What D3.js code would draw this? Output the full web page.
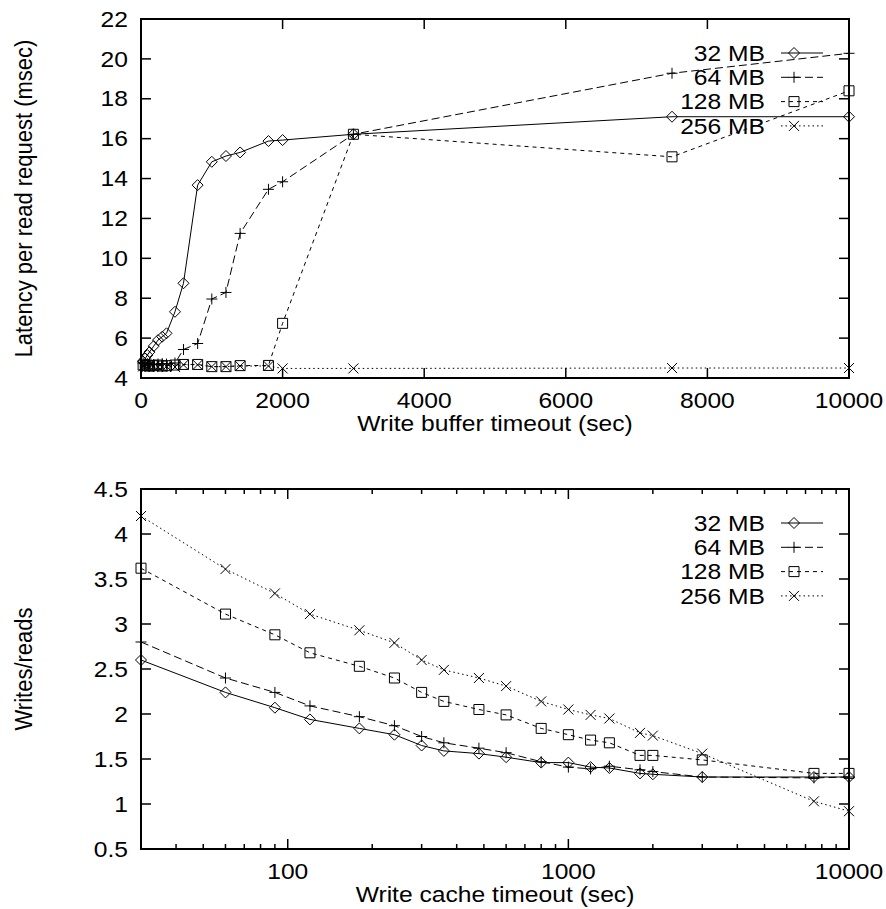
<!DOCTYPE html>
<html>
<head>
<meta charset="utf-8">
<title>Write buffer / write cache timeout</title>
<script src="https://d3js.org/d3.v7.min.js"></script>
<style>
  body { margin: 0; background: #fff; }
  svg text { font-family: "Liberation Sans", Arial, sans-serif; font-size: 22px; fill: #000; }
</style>
</head>
<body>
<div id="chart"></div>
<script>

// ---- data ----
var seriesNames = ["32 MB", "64 MB", "128 MB", "256 MB"];

// same timeouts (sec) for both panels
var timeouts = [30, 60, 90, 120, 180, 240, 300, 360, 480, 600, 800, 1000, 1200, 1400, 1800, 2000, 3000, 7500, 10000];

// top panel: latency per read request (msec)
var latency32  = [4.82, 4.98, 5.15, 5.3, 5.6, 5.9, 6.07, 6.24, 7.32, 8.75, 13.67, 14.84, 15.13, 15.31, 15.88, 15.93, 16.22, 17.1, 17.1];
var latency64  = [4.75, 4.7, 4.72, 4.7, 4.68, 4.7, 4.72, 4.7, 4.75, 5.43, 5.73, 7.96, 8.29, 11.25, 13.46, 13.84, 16.22, 19.28, 20.28];
var latency128 = [4.65, 4.62, 4.65, 4.6, 4.62, 4.65, 4.6, 4.62, 4.65, 4.68, 4.68, 4.57, 4.57, 4.62, 4.63, 6.74, 16.22, 15.09, 18.4];
var latency256 = [4.58, 4.55, 4.57, 4.55, 4.58, 4.55, 4.56, 4.58, 4.55, 4.66, 4.66, 4.57, 4.57, 4.6, 4.6, 4.48, 4.48, 4.5, 4.5];

// bottom panel: writes/reads
var ratio32  = [2.6, 2.24, 2.07, 1.94, 1.84, 1.77, 1.65, 1.59, 1.56, 1.52, 1.46, 1.46, 1.41, 1.40, 1.34, 1.33, 1.30, 1.30, 1.30];
var ratio64  = [2.80, 2.40, 2.24, 2.09, 1.97, 1.87, 1.75, 1.68, 1.62, 1.57, 1.47, 1.41, 1.39, 1.42, 1.38, 1.36, 1.30, 1.29, 1.30];
var ratio128 = [3.62, 3.11, 2.88, 2.68, 2.53, 2.40, 2.24, 2.14, 2.05, 1.99, 1.84, 1.77, 1.71, 1.68, 1.54, 1.54, 1.49, 1.34, 1.34];
var ratio256 = [4.2, 3.61, 3.34, 3.11, 2.93, 2.79, 2.6, 2.49, 2.40, 2.31, 2.14, 2.05, 1.99, 1.95, 1.79, 1.76, 1.56, 1.03, 0.92];

// tick values
var topXTicks = [0, 2000, 4000, 6000, 8000, 10000];
var topYTicks = [4, 6, 8, 10, 12, 14, 16, 18, 20, 22];
var botXTicks = [100, 1000, 10000];
var botXMinor = [40, 50, 60, 70, 80, 90, 200, 300, 400, 500, 600, 700, 800, 900, 2000, 3000, 4000, 5000, 6000, 7000, 8000, 9000];
var botYTicks = [0.5, 1, 1.5, 2, 2.5, 3, 3.5, 4, 4.5];


var width = 886, height = 909;
var svg = d3.select("#chart").append("svg")
	.attr("width", width)
	.attr("height", height);

// the original's lettering is a bit wider than Helvetica/Arial
var stretch = 1.12;

// gnuplot-like line styles: solid, long dash, short dash, dotted
var dashes = [null, "8,4", "4,4", "1.5,3"];
var markers = ["diamond", "plus", "square", "cross"];

function markerPath(type, x, y) {
	var r = 5.5;
	if (type == "diamond") return "M" + x + "," + (y - r) + "L" + (x + r) + "," + y + "L" + x + "," + (y + r) + "L" + (x - r) + "," + y + "Z";
	if (type == "plus") return "M" + (x - r) + "," + y + "H" + (x + r) + "M" + x + "," + (y - r) + "V" + (y + r);
	if (type == "square") { r = 5; return "M" + (x - r) + "," + (y - r) + "h" + (2 * r) + "v" + (2 * r) + "h" + (-2 * r) + "Z"; }
	r = 5; // cross
	return "M" + (x - r) + "," + (y - r) + "L" + (x + r) + "," + (y + r) + "M" + (x + r) + "," + (y - r) + "L" + (x - r) + "," + (y + r);
}

// text placed at (x,y), stretched horizontally
function label(g, x, y, anchor, str, rotate) {
	return g.append("text")
		.attr("transform", "translate(" + x + "," + y + ") scale(" + stretch + ",1)" + (rotate ? " rotate(-90)" : ""))
		.attr("dy", "0.35em")
		.attr("text-anchor", anchor)
		.text(str);
}

// Draws one panel (frame, mirrored ticks, labels, series, key)
function drawPanel(p) {
	var g = svg.append("g");
	var x = p.x, y = p.y;
	var L = p.left, R = p.right, T = p.top, B = p.bottom;

	// series lines + points
	p.series.forEach(function (vals, i) {
		var pts = timeouts.map((t, k) => [x(t), y(vals[k])]);
		g.append("path")
			.attr("d", d3.line()(pts))
			.attr("fill", "none")
			.attr("stroke", "#000")
			.attr("stroke-width", 1)
			.attr("stroke-dasharray", dashes[i]);
		g.selectAll(null)
			.data(pts)
			.join("path")
			.attr("d", d => markerPath(markers[i], d[0], d[1]))
			.attr("fill", "none")
			.attr("stroke", "#000")
			.attr("stroke-width", 1);
	});

	// major ticks (mirrored top/bottom and left/right)
	p.xTicks.forEach(function (t) {
		var xx = x(t);
		g.append("line").attr("x1", xx).attr("x2", xx).attr("y1", B).attr("y2", B - 10).attr("stroke", "#000").attr("stroke-width", 1.5);
		g.append("line").attr("x1", xx).attr("x2", xx).attr("y1", T).attr("y2", T + 10).attr("stroke", "#000").attr("stroke-width", 1.5);
		label(g, xx, B + 22, "middle", p.xFormat(t));
	});
	(p.xMinor || []).forEach(function (t) {
		var xx = x(t);
		g.append("line").attr("x1", xx).attr("x2", xx).attr("y1", B).attr("y2", B - 5).attr("stroke", "#000").attr("stroke-width", 1.5);
		g.append("line").attr("x1", xx).attr("x2", xx).attr("y1", T).attr("y2", T + 5).attr("stroke", "#000").attr("stroke-width", 1.5);
	});
	p.yTicks.forEach(function (t) {
		var yy = y(t);
		g.append("line").attr("x1", L).attr("x2", L + 10).attr("y1", yy).attr("y2", yy).attr("stroke", "#000").attr("stroke-width", 1.5);
		g.append("line").attr("x1", R).attr("x2", R - 10).attr("y1", yy).attr("y2", yy).attr("stroke", "#000").attr("stroke-width", 1.5);
		label(g, L - 13, yy, "end", p.yFormat(t));
	});

	// frame
	g.append("rect")
		.attr("x", L).attr("y", T)
		.attr("width", R - L).attr("height", B - T)
		.attr("fill", "none")
		.attr("stroke", "#000")
		.attr("stroke-width", 2);

	// axis titles
	label(g, (L + R) / 2, B + 45, "middle", p.xTitle);
	label(g, 23, (T + B) / 2, "middle", p.yTitle, true);

	// key
	seriesNames.forEach(function (name, i) {
		var ky = p.keyTop + i * 24.3;
		label(g, 765, ky, "end", name);
		g.append("line").attr("x1", 781).attr("x2", 823).attr("y1", ky).attr("y2", ky)
			.attr("stroke", "#000").attr("stroke-width", 1).attr("stroke-dasharray", dashes[i]);
		g.append("path").attr("d", markerPath(markers[i], 794, ky))
			.attr("fill", "none").attr("stroke", "#000").attr("stroke-width", 1);
	});
}

// Top: linear x
drawPanel({
	left: 141, right: 849, top: 19, bottom: 378,
	x: d3.scaleLinear().domain([0, 10000]).range([141, 849]),
	y: d3.scaleLinear().domain([4, 22]).range([378, 19]),
	series: [latency32, latency64, latency128, latency256],
	xTicks: topXTicks, yTicks: topYTicks,
	xFormat: d => String(d), yFormat: d => String(d),
	xTitle: "Write buffer timeout (sec)",
	yTitle: "Latency per read request (msec)",
	keyTop: 53
});

// Bottom: log x
drawPanel({
	left: 141, right: 849, top: 489, bottom: 849,
	x: d3.scaleLog().domain([30, 10000]).range([141, 849]),
	y: d3.scaleLinear().domain([0.5, 4.5]).range([849, 489]),
	series: [ratio32, ratio64, ratio128, ratio256],
	xTicks: botXTicks, xMinor: botXMinor, yTicks: botYTicks,
	xFormat: d => String(d), yFormat: d => String(d),
	xTitle: "Write cache timeout (sec)",
	yTitle: "Writes/reads",
	keyTop: 523
});

</script>
</body>
</html>
